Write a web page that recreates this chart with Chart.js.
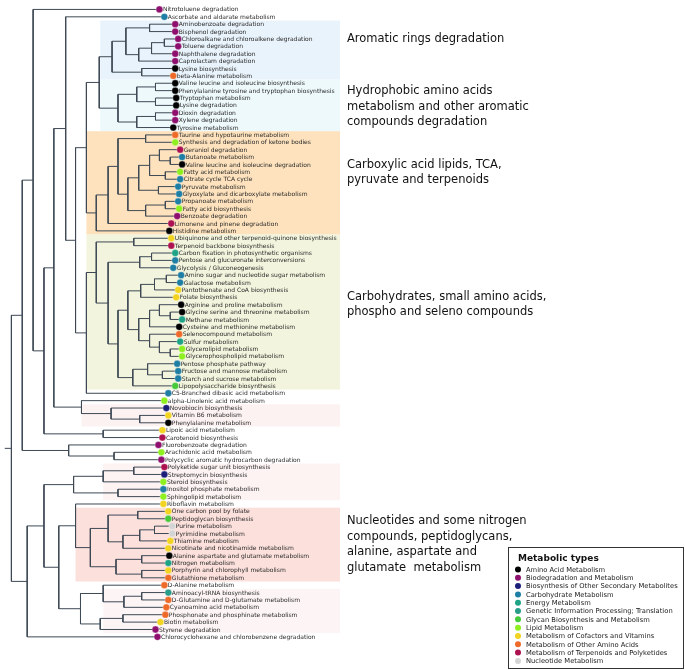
<!DOCTYPE html>
<html lang="en">
<head>
  <meta charset="UTF-8">
  <title>Clustering of metabolic pathways</title>
  <style>
    body { margin: 0; background: #fff; }
    canvas { display: block; }
  </style>
  <script src="https://cdn.jsdelivr.net/npm/chart.js"></script>
</head>
<body>
  <canvas id="treeChart" width="685" height="670"></canvas>
  <script>
    // metabolic types (legend) and their colours
    var types = [
      'Amino Acid Metabolism',
      'Biodegradation and Metabolism',
      'Biosynthesis of Other Secondary Metabolites',
      'Carbohydrate Metabolism',
      'Energy Metabolism',
      'Genetic Information Processing; Translation',
      'Glycan Biosynthesis and Metabolism',
      'Lipid Metabolism',
      'Metabolism of Cofactors and Vitamins',
      'Metabolism of Other Amino Acids',
      'Metabolism of Terpenoids and Polyketides',
      'Nucleotide Metabolism'
    ];
    var typeColors = ['#000000', '#8e0f6e', '#1b1f7a', '#1f7ea3', '#1fa386', '#2a9c8a',
                      '#46c93a', '#8ef01e', '#f2d31f', '#ee6a28', '#ad1250', '#d4d4d4'];

    // leaves, top to bottom
    var pathways = [
      'Nitrotoluene degradation', 'Ascorbate and aldarate metabolism', 'Aminobenzoate degradation',
      'Bisphenol degradation', 'Chloroalkane and chloroalkene degradation', 'Toluene degradation',
      'Naphthalene degradation', 'Caprolactam degradation', 'Lysine biosynthesis', 'beta-Alanine metabolism',
      'Valine leucine and isoleucine biosynthesis', 'Phenylalanine tyrosine and tryptophan biosynthesis',
      'Tryptophan metabolism', 'Lysine degradation', 'Dioxin degradation', 'Xylene degradation',
      'Tyrosine metabolism', 'Taurine and hypotaurine metabolism', 'Synthesis and degradation of ketone bodies',
      'Geraniol degradation', 'Butanoate metabolism', 'Valine leucine and isoleucine degradation',
      'Fatty acid metabolism', 'Citrate cycle TCA cycle', 'Pyruvate metabolism',
      'Glyoxylate and dicarboxylate metabolism', 'Propanoate metabolism', 'Fatty acid biosynthesis',
      'Benzoate degradation', 'Limonene and pinene degradation', 'Histidine metabolism',
      'Ubiquinone and other terpenoid-quinone biosynthesis', 'Terpenoid backbone biosynthesis',
      'Carbon fixation in photosynthetic organisms', 'Pentose and glucuronate interconversions',
      'Glycolysis / Gluconeogenesis', 'Amino sugar and nucleotide sugar metabolism', 'Galactose metabolism',
      'Pantothenate and CoA biosynthesis', 'Folate biosynthesis', 'Arginine and proline metabolism',
      'Glycine serine and threonine metabolism', 'Methane metabolism', 'Cysteine and methionine metabolism',
      'Selenocompound metabolism', 'Sulfur metabolism', 'Glycerolipid metabolism',
      'Glycerophospholipid metabolism', 'Pentose phosphate pathway', 'Fructose and mannose metabolism',
      'Starch and sucrose metabolism', 'Lipopolysaccharide biosynthesis', 'C5-Branched dibasic acid metabolism',
      'alpha-Linolenic acid metabolism', 'Novobiocin biosynthesis', 'Vitamin B6 metabolism',
      'Phenylalanine metabolism', 'Lipoic acid metabolism', 'Carotenoid biosynthesis',
      'Fluorobenzoate degradation', 'Arachidonic acid metabolism', 'Polycyclic aromatic hydrocarbon degradation',
      'Polyketide sugar unit biosynthesis', 'Streptomycin biosynthesis', 'Steroid biosynthesis',
      'Inositol phosphate metabolism', 'Sphingolipid metabolism', 'Riboflavin metabolism',
      'One carbon pool by folate', 'Peptidoglycan biosynthesis', 'Purine metabolism', 'Pyrimidine metabolism',
      'Thiamine metabolism', 'Nicotinate and nicotinamide metabolism', 'Alanine aspartate and glutamate metabolism',
      'Nitrogen metabolism', 'Porphyrin and chlorophyll metabolism', 'Glutathione metabolism',
      'D-Alanine metabolism', 'Aminoacyl-tRNA biosynthesis', 'D-Glutamine and D-glutamate metabolism',
      'Cyanoamino acid metabolism', 'Phosphonate and phosphinate metabolism', 'Biotin metabolism',
      'Styrene degradation', 'Chlorocyclohexane and chlorobenzene degradation'
    ];
    var pathwayType = [1, 3, 1, 1, 1, 1, 1, 1, 0, 9,
                       0, 0, 0, 0, 1, 1, 0, 9, 7, 10,
                       3, 0, 7, 3, 3, 3, 3, 7, 1, 10,
                       0, 8, 10, 4, 3, 3, 3, 3, 8, 8,
                       0, 0, 4, 0, 9, 4, 7, 7, 3, 3,
                       3, 6, 3, 7, 2, 8, 0, 8, 10, 1,
                       7, 1, 10, 2, 7, 3, 7, 8, 8, 6,
                       11, 11, 8, 8, 0, 4, 8, 9, 9, 5,
                       9, 9, 9, 8, 1, 1];
    // branch length of every leaf (distance from root)
    var leafDepth = [157, 162, 173, 173, 176, 176, 173, 173, 173, 171,
                     173, 173, 174, 174, 173, 173, 171, 173, 173, 178,
                     180, 180, 178, 178, 176, 177, 176, 177, 175, 169,
                     167, 169, 169, 173, 173, 171, 179, 178, 176, 174,
                     179, 180, 180, 177, 177, 178, 180, 180, 175, 176,
                     176, 173, 166, 162, 164, 166, 166, 160, 160, 156,
                     159, 159, 162, 162, 161, 161, 161, 161, 166, 166,
                     170, 170, 168, 166, 167, 166, 166, 166, 162, 166,
                     166, 164, 163, 158, 153, 155];
    // merges: [child a, child b, depth]; ids >= 86 are earlier merges
    var merges = [
      [2, 3, 147], [4, 5, 162], [87, 6, 149], [88, 7, 136], [86, 89, 123],
      [8, 9, 139], [90, 91, 109], [10, 11, 153], [12, 13, 153], [93, 94, 134],
      [14, 15, 153], [96, 16, 134], [95, 97, 115], [92, 98, 96],
      [17, 18, 143], [20, 21, 168], [19, 101, 157], [22, 23, 163], [102, 103, 147],
      [24, 25, 156], [104, 105, 136], [26, 27, 163], [107, 28, 143], [106, 108, 125],
      [100, 109, 115], [110, 29, 105], [111, 30, 93], [99, 112, 83],
      [31, 32, 131], [33, 34, 149], [115, 35, 137], [36, 37, 164], [117, 38, 152],
      [118, 39, 138], [41, 42, 168], [40, 120, 157], [121, 43, 147], [46, 47, 168],
      [45, 123, 157], [44, 124, 147], [122, 125, 136], [119, 126, 125], [49, 50, 160],
      [48, 128, 145], [129, 51, 130], [127, 130, 115], [116, 131, 105], [114, 132, 93],
      [133, 52, 83], [113, 134, 72], [1, 135, 62],
      [55, 56, 137], [54, 137, 108], [53, 138, 78], [136, 139, 50], [57, 58, 100],
      [140, 141, 40], [0, 142, 29], [60, 61, 111], [59, 144, 65], [143, 145, 18],
      [62, 63, 131], [147, 64, 100], [65, 66, 115], [148, 149, 70],
      [68, 69, 135], [70, 71, 152], [152, 72, 137], [153, 73, 120], [151, 154, 105],
      [74, 75, 139], [76, 77, 139], [156, 157, 113], [155, 158, 87], [67, 159, 72],
      [79, 80, 139], [161, 81, 121], [78, 162, 100], [82, 83, 120], [164, 84, 97],
      [163, 165, 77], [160, 166, 55], [150, 167, 40], [168, 85, 23], [146, 169, 7]
    ];

    // shaded clusters: [first leaf, last leaf, left depth, colour]
    var bands = [
      [2, 9, 97, '#e9f3fb'],
      [10, 16, 97, '#eef9fc'],
      [17, 30, 83, '#fde2bd'],
      [31, 51, 83, '#f3f4dd'],
      [54, 56, 78, '#fdf2f2'],
      [62, 66, 100, '#fdf3f3'],
      [68, 77, 72, '#fbe0dc'],
      [79, 84, 100, '#fdf5f5']
    ];
    var bandEdge = 340;

    // cluster captions: [lines, centre row]
    var notes = [
      [['Aromatic rings degradation'], 4.0],
      [['Hydrophobic amino acids', 'metabolism and other aromatic', 'compounds degradation'], 13.2],
      [['Carboxylic acid lipids, TCA,', 'pyruvate and terpenoids'], 22.1],
      [['Carbohydrates, small amino acids,', 'phospho and seleno compounds'], 40.0],
      [['Nucleotides and some nitrogen', 'compounds, peptidoglycans,', 'alanine, aspartate and', 'glutamate  metabolism'], 72.5]
    ];

    var lineColor = '#3e4955';
    var n = pathways.length;
    var nodeX = leafDepth.slice();
    var nodeY = pathways.map(function (p, i) { return i; });

    var datasets = [{
      label: 'pathways',
      data: pathways.map(function (p, i) { return { x: leafDepth[i], y: i }; }),
      backgroundColor: pathwayType.map(function (t) { return typeColors[t]; }),
      borderColor: 'rgba(255,255,255,0.6)',
      borderWidth: 0.5,
      pointRadius: 3.4,
      order: 0
    }];

    merges.forEach(function (m, k) {
      var a = m[0], b = m[1], d = m[2];
      nodeX[n + k] = d;
      nodeY[n + k] = (nodeY[a] + nodeY[b]) / 2;
      datasets.push({
        data: [{ x: nodeX[a], y: nodeY[a] }, { x: d, y: nodeY[a] }, { x: d, y: nodeY[b] }, { x: nodeX[b], y: nodeY[b] }],
        showLine: true, borderColor: lineColor, borderWidth: 1, pointRadius: 0, tension: 0, fill: false, order: 1
      });
    });
    var root = n + merges.length - 1;
    datasets.push({
      data: [{ x: 0, y: nodeY[root] }, { x: nodeX[root], y: nodeY[root] }],
      showLine: true, borderColor: lineColor, borderWidth: 1, pointRadius: 0, order: 1
    });

    var rowPx = 7.482, topPx = 5;
    var yMin = -topPx / rowPx;
    var yMax = yMin + 670 / rowPx;

    var treeDecor = {
      id: 'treeDecor',
      beforeDatasetsDraw: function (chart) {
        var ctx = chart.ctx, xs = chart.scales.x, ys = chart.scales.y;
        ctx.save();
        bands.forEach(function (b) {
          var top = ys.getPixelForValue(b[0] - 0.5);
          var bottom = ys.getPixelForValue(b[1] + 0.5);
          var left = xs.getPixelForValue(b[2]);
          ctx.fillStyle = b[3];
          ctx.fillRect(left, top, xs.getPixelForValue(bandEdge) - left, bottom - top);
        });
        ctx.restore();
      },
      afterDatasetsDraw: function (chart) {
        var ctx = chart.ctx, xs = chart.scales.x, ys = chart.scales.y;
        ctx.save();
        ctx.font = '6px "DejaVu Sans"';
        ctx.fillStyle = '#2a2a2a';
        ctx.textBaseline = 'middle';
        pathways.forEach(function (p, i) {
          ctx.fillText(p, xs.getPixelForValue(leafDepth[i]) + 3.5, ys.getPixelForValue(i) + 0.5);
        });

        ctx.font = '11.5px "DejaVu Sans"';
        ctx.fillStyle = '#111';
        notes.forEach(function (note) {
          var lines = note[0];
          var cy = ys.getPixelForValue(note[1]);
          lines.forEach(function (t, j) {
            ctx.fillText(t, xs.getPixelForValue(347), cy + (j - (lines.length - 1) / 2) * 15.5);
          });
        });

        // legend box
        var bx = 508, by = 547, bw = 175, bh = 121;
        ctx.fillStyle = '#fff';
        ctx.fillRect(bx, by, bw, bh);
        ctx.strokeStyle = '#333';
        ctx.lineWidth = 1;
        ctx.strokeRect(bx + 0.5, by + 0.5, bw, bh);
        ctx.fillStyle = '#111';
        ctx.font = 'bold 9px "DejaVu Sans"';
        ctx.fillText('Metabolic types', bx + 10, by + 12);
        ctx.font = '6.75px "DejaVu Sans"';
        types.forEach(function (t, j) {
          var yy = by + 22.5 + j * 8.31;
          ctx.beginPath();
          ctx.arc(bx + 10, yy, 3, 0, Math.PI * 2);
          ctx.fillStyle = typeColors[j];
          ctx.fill();
          ctx.fillStyle = '#222';
          ctx.fillText(t, bx + 18, yy + 0.5);
        });
        ctx.restore();
      }
    };

    new Chart(document.getElementById('treeChart').getContext('2d'), {
      type: 'scatter',
      data: { datasets: datasets },
      options: {
        responsive: false,
        animation: false,
        layout: { padding: 0 },
        plugins: { legend: { display: false }, tooltip: { enabled: false } },
        scales: {
          x: { type: 'linear', display: false, min: 0, max: 685 },
          y: { type: 'linear', display: false, reverse: true, min: yMin, max: yMax }
        }
      },
      plugins: [treeDecor]
    });
  </script>
</body>
</html>
